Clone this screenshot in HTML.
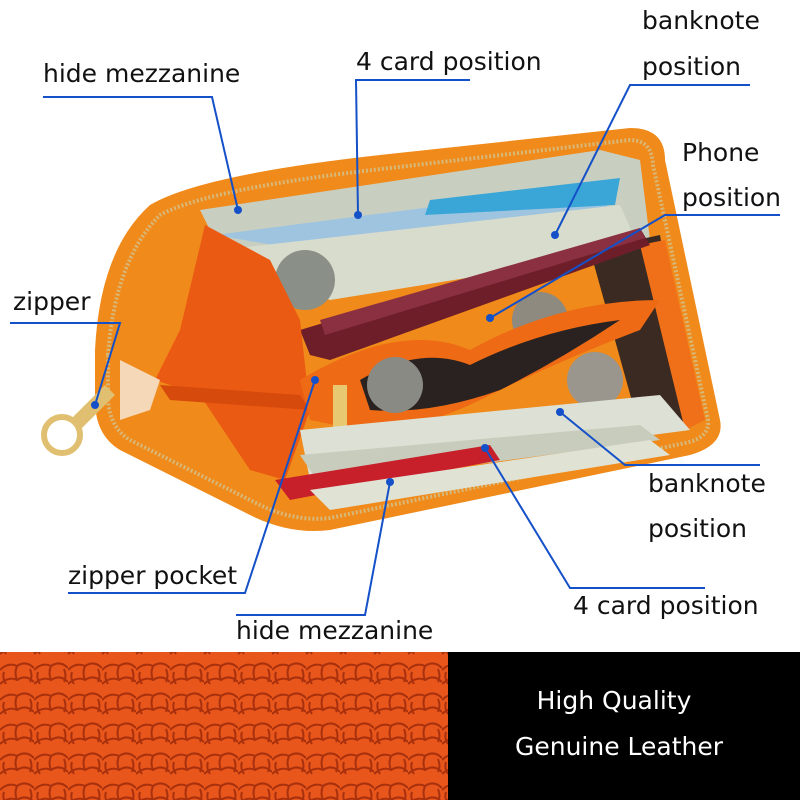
<!DOCTYPE html>
<html><head><meta charset="utf-8"><style>
html,body{margin:0;padding:0;background:#fff}
body{width:800px;height:800px;position:relative;overflow:hidden;font-family:"DejaVu Sans","Liberation Sans",sans-serif}
.t{position:absolute;font-size:25px;color:#111;white-space:nowrap}
</style></head><body>
<svg width="800" height="800" style="position:absolute;left:0;top:0">
<defs>
<pattern id="lea" width="34" height="30" patternUnits="userSpaceOnUse">
<rect width="34" height="30" fill="#e8561c"/>
<path d="M0 10 Q8 2 17 6 Q26 0 34 8 M0 24 Q9 16 17 20 Q26 14 34 22 M17 6 Q14 13 17 20 M4 12 Q2 18 6 24 M30 9 Q33 16 30 22" stroke="#a8300c" stroke-width="2" fill="none"/>
</pattern>
</defs>
<path d="M95 350 Q100 250 150 205 Q200 175 380 155 L630 128 Q665 128 665 160 L720 420 Q725 445 690 455 L330 530 Q290 535 250 515 L120 450 Q95 435 95 400 Z" fill="#f08a1a"/>
<path d="M108 355 Q115 260 160 215 Q210 188 390 168 L630 140 Q652 140 653 165 L708 420 Q710 438 685 443 L330 518 Q295 522 260 505 L130 440 Q110 428 108 400 Z" fill="none" stroke="#d8b878" stroke-width="4" stroke-dasharray="2 2"/>
<path d="M200 210 L600 150 L640 160 L650 240 L300 300 L215 240 Z" fill="#c9cfc0"/>
<path d="M215 235 L600 185 L610 215 L330 255 Z" fill="#9fc4e0"/>
<path d="M430 200 L620 178 L615 205 L425 215 Z" fill="#3aa6d8"/>
<path d="M220 250 L620 205 L640 250 L330 300 Z" fill="#d8dccc"/>
<circle cx="305" cy="280" r="30" fill="#8a9088"/>
<path d="M590 250 L660 235 L690 420 L640 430 Z" fill="#3a2a22"/>
<path d="M640 245 L665 240 L705 420 L685 430 Z" fill="#f0701a"/>
<path d="M300 330 L640 228 L650 245 L330 360 L310 355 Z" fill="#6e1e28"/>
<path d="M320 320 L640 228 L645 238 L325 335 Z" fill="#8a3040"/>
<circle cx="540" cy="320" r="28" fill="#8e8a80"/>
<path d="M205 225 L270 260 L300 320 L310 410 L285 480 L250 470 L200 395 L155 380 L180 330 Z" fill="#ea5a12"/>
<path d="M160 385 L300 395 L310 410 L170 400 Z" fill="#d64a0c"/>
<path d="M120 360 L160 380 L150 410 L120 420 Z" fill="#f4d8b8"/>
<path d="M300 380 Q400 320 470 350 Q560 300 660 300 L640 330 Q560 360 480 400 Q420 430 360 430 L310 420 Z" fill="#ee6a14"/>
<path d="M360 380 Q420 345 470 365 Q540 330 620 320 Q560 360 500 390 Q430 415 370 410 Z" fill="#2a2220"/>
<circle cx="395" cy="385" r="28" fill="#8a8a84"/>
<circle cx="595" cy="380" r="28" fill="#9a968e"/>
<rect x="333" y="385" width="14" height="70" fill="#e8c870"/>
<path d="M300 430 L660 395 L690 430 L310 480 Z" fill="#dde0d4"/>
<path d="M300 455 L640 425 L660 440 L320 485 Z" fill="#c8ccbc"/>
<path d="M275 480 L490 445 L500 460 L290 500 Z" fill="#c8202a"/>
<path d="M310 490 L650 440 L670 455 L330 510 Z" fill="#e0e2d4"/>
<circle cx="62" cy="435" r="18" fill="none" stroke="#e0c070" stroke-width="6"/>
<path d="M70 420 L105 385 L115 395 L80 430 Z" fill="#e0c070"/>
<rect x="0" y="652" width="448" height="148" fill="url(#lea)"/>
<rect x="448" y="652" width="352" height="148" fill="#000"/>
<g stroke="#1450c8" stroke-width="2" fill="none">
<polyline points="43,97 212,97 238,210"/>
<polyline points="470,80 356,80 358,215"/>
<polyline points="750,85 630,85 555,235"/>
<polyline points="780,215 665,215 490,318"/>
<polyline points="10,323 120,323 95,405"/>
<polyline points="760,465 625,465 560,412"/>
<polyline points="705,588 570,588 485,448"/>
<polyline points="68,593 245,593 315,380"/>
<polyline points="236,615 365,615 390,482"/>
</g>
<g fill="#1450c8">
<circle cx="238" cy="210" r="4"/><circle cx="358" cy="215" r="4"/><circle cx="555" cy="235" r="4"/>
<circle cx="490" cy="318" r="4"/><circle cx="95" cy="405" r="4"/><circle cx="560" cy="412" r="4"/>
<circle cx="485" cy="448" r="4"/><circle cx="315" cy="380" r="4"/><circle cx="390" cy="482" r="4"/>
</g>
</svg>
<div class="t" style="left:43px;top:59px">hide mezzanine</div>
<div class="t" style="left:356px;top:47px">4 card position</div>
<div class="t" style="left:642px;top:6px">banknote</div>
<div class="t" style="left:642px;top:52px">position</div>
<div class="t" style="left:682px;top:138px">Phone</div>
<div class="t" style="left:682px;top:183px">position</div>
<div class="t" style="left:13px;top:287px">zipper</div>
<div class="t" style="left:648px;top:469px">banknote</div>
<div class="t" style="left:648px;top:514px">position</div>
<div class="t" style="left:68px;top:561px">zipper pocket</div>
<div class="t" style="left:573px;top:591px">4 card position</div>
<div class="t" style="left:236px;top:616px">hide mezzanine</div>
<div class="t" style="left:448px;width:332px;text-align:center;top:686px;color:#fff">High Quality</div>
<div class="t" style="left:448px;width:342px;text-align:center;top:732px;color:#fff">Genuine Leather</div>
</body></html>
